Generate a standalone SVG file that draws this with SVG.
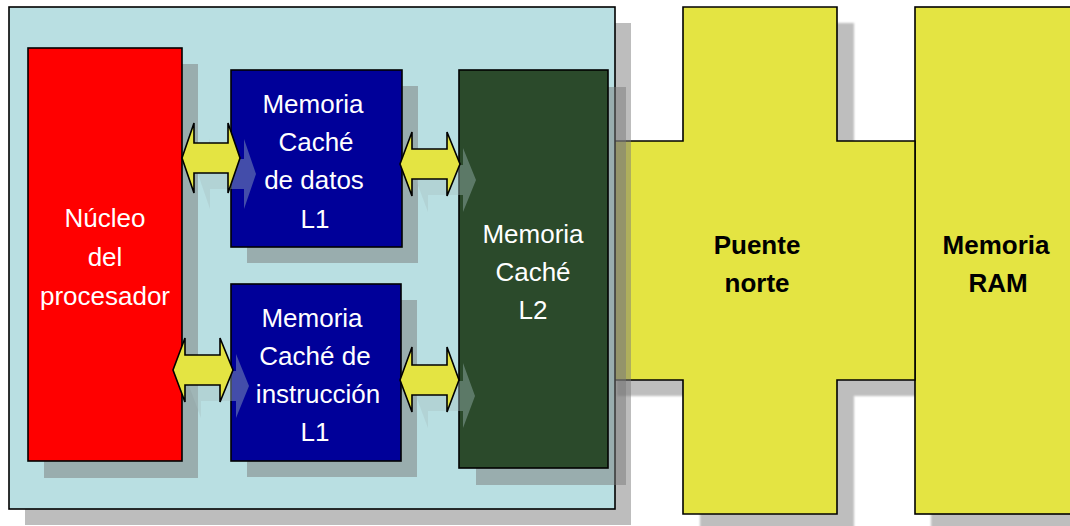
<svg xmlns="http://www.w3.org/2000/svg" width="1070" height="526" viewBox="0 0 1070 526">
<defs>
<style>
.sh{fill:#797979;fill-opacity:0.49}
.ol{stroke:#000;stroke-width:1.6}
.tw{font-family:"Liberation Sans",Arial,sans-serif;font-size:26px;fill:#fff;text-anchor:middle}
.tb{font-family:"Liberation Sans",Arial,sans-serif;font-size:26px;font-weight:bold;fill:#000;text-anchor:middle}
.arr{fill:#E4E442;stroke:#000;stroke-width:1.6;stroke-linejoin:miter}
.ash{fill:#A8C0C4;fill-opacity:0.4}
</style>
<filter id="blur" x="-5%" y="-5%" width="110%" height="110%"><feGaussianBlur stdDeviation="1.2"/></filter>
<polygon id="cross" points="600,141 683,141 683,7 837,7 837,141 915,141 915,380 837,380 837,514 683,514 683,380 600,380"/>
</defs>
<rect width="1070" height="526" fill="#fff"/>

<g id="puente-norte">
<use href="#cross" transform="translate(17,16)" fill="#BEBEBE" filter="url(#blur)"/>
<rect x="931" y="23" width="170" height="507" fill="#BEBEBE" filter="url(#blur)"/>
</g>
<g id="memoria-ram">
<rect x="915" y="7" width="170" height="507" fill="#E4E442" class="ol"/>
<text class="tb" x="996" y="254">Memoria</text>
<text class="tb" x="998" y="292">RAM</text>
</g>
<g id="puente">
<use href="#cross" fill="#E4E442" class="ol"/>
<text class="tb" x="757" y="254">Puente</text>
<text class="tb" x="757" y="292">norte</text>
</g>

<g id="procesador">
<rect x="25" y="23" width="606" height="502" class="sh"/>
<rect x="9" y="7" width="606" height="502" fill="#B9DFE2" class="ol"/>
</g>

<g id="shadows">
<rect x="44" y="64" width="154" height="414" class="sh"/>
<rect x="247" y="86" width="171" height="177" class="sh"/>
<rect x="247" y="300" width="170" height="177" class="sh"/>
<rect x="476" y="87" width="150" height="398" class="sh"/>
</g>

<g id="nucleo">
<rect x="28" y="48" width="154" height="413" fill="#FF0000" class="ol"/>
<text class="tw" x="105" y="227">Núcleo</text>
<text class="tw" x="105" y="266">del</text>
<text class="tw" x="105" y="305">procesador</text>
</g>
<g id="cache-datos">
<rect x="231" y="70" width="171" height="177" fill="#000099" class="ol"/>
<text class="tw" x="313" y="113">Memoria</text>
<text class="tw" x="316" y="151">Caché</text>
<text class="tw" x="314" y="189">de datos</text>
<text class="tw" x="315" y="228">L1</text>
</g>
<g id="cache-instruccion">
<rect x="231" y="284" width="170" height="177" fill="#000099" class="ol"/>
<text class="tw" x="312" y="327">Memoria</text>
<text class="tw" x="315" y="365">Caché de</text>
<text class="tw" x="318" y="403">instrucción</text>
<text class="tw" x="315" y="441">L1</text>
</g>
<g id="cache-l2">
<rect x="459" y="70" width="149" height="398" fill="#2B4A2B" class="ol"/>
<text class="tw" x="533" y="243" fill="#F0F0F0">Memoria</text>
<text class="tw" x="533" y="281">Caché</text>
<text class="tw" x="533" y="319">L2</text>
</g>

<g id="connectors">
<g transform="translate(16,16)">
<polygon class="ash" points="182,158 194,123 194,143 228,143 228,123 240,158 228,193 228,173 194,173 194,193"/>
<polygon class="ash" points="400,164 412,132 412,149 447,149 447,132 460,164 447,196 447,179 412,179 412,196"/>
<polygon class="ash" points="173,370 185,338 185,355 220,355 220,338 233,370 220,402 220,385 185,385 185,402"/>
<polygon class="ash" points="400,380 412,347 412,365 447,365 447,347 459,380 447,412 447,395 412,395 412,412"/>
</g>
<polygon class="arr" points="182,158 194,123 194,143 228,143 228,123 240,158 228,193 228,173 194,173 194,193"/>
<polygon class="arr" points="400,164 412,132 412,149 447,149 447,132 460,164 447,196 447,179 412,179 412,196"/>
<polygon class="arr" points="173,370 185,338 185,355 220,355 220,338 233,370 220,402 220,385 185,385 185,402"/>
<polygon class="arr" points="400,380 412,347 412,365 447,365 447,347 459,380 447,412 447,395 412,395 412,412"/>
</g>
</svg>
